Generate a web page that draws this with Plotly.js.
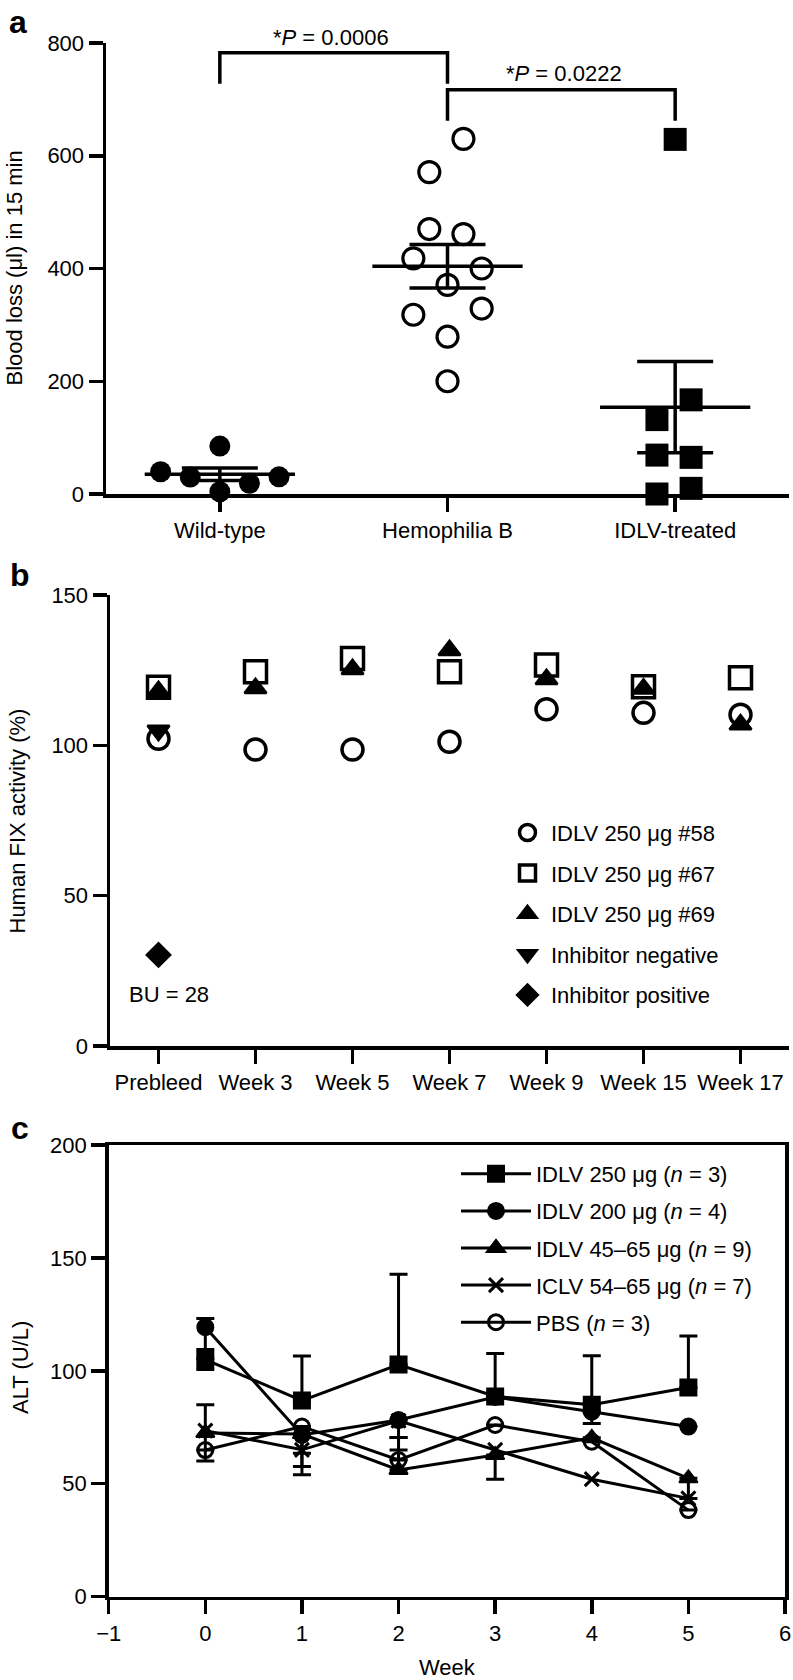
<!DOCTYPE html>
<html>
<head>
<meta charset="utf-8">
<script src="https://cdn.plot.ly/plotly-3.0.1.min.js"></script>
<style>html,body{margin:0;padding:0;background:#fff;}#chart{width:793px;height:1680px;}</style>
</head>
<body>
<div id="chart"></div>
<script>
// ---------- Panel a data ----------
const aCategories = ['Wild-type', 'Hemophilia B', 'IDLV-treated'];
const wtValues = [39.5, 30, 85, 4, 19, 30.5];
const wtJitter = [-0.26, -0.13, 0, 0, 0.13, 0.26];
const hbValues = [630, 571, 470, 461, 418, 400, 371, 318, 329, 279, 200];
const hbJitter = [0.07, -0.08, -0.08, 0.07, -0.15, 0.15, 0, -0.15, 0.15, 0, 0];
const idlvValues = [629, 167, 132, 69, 65, 0, 10];
const idlvJitter = [0, 0.07, -0.08, -0.08, 0.07, -0.08, 0.07];
const groupMeans = [35, 404, 154];
const groupSEM = [11, 38.5, 81];
const bracketFrom = [0, 1];
const bracketTo = [1, 2];
const bracketTop = [782.5, 717];
const bracketLeg = [727.5, 662];
const pLabels = ['*<i>P</i> = 0.0006', '*<i>P</i> = 0.0222'];
const pLabelX = [0.49, 1.512];

// ---------- Panel b data ----------
const bCategories = ['Prebleed', 'Week 3', 'Week 5', 'Week 7', 'Week 9', 'Week 15', 'Week 17'];
const fix58 = [102.2, 98.6, 98.6, 101.2, 112, 110.8, 110.2];
const fix67 = [119.3, 124.5, 128.9, 124.5, 126.7, 119.5, 122.5];
const fix69 = [118, 119, 125.3, 131.6, 122, 118.8, 106.9];
const inhibitorNeg = [104.9];
const inhibitorPos = [30.3];
const inhibitorCat = ['Prebleed'];
const buLabel = 'BU = 28';

// ---------- Panel c data ----------
const weeks = [0, 1, 2, 3, 4, 5];
const alt250 = [105, 86.8, 102.8, 88.6, 85, 92.6];
const alt250Up = [4.4, 19.8, 40, 19.1, 21.7, 22.8];
const alt250Down = [4.4, 0, 0, 0, 0, 0];
const alt200 = [119.3, 71.6, 78.2, 88.4, 81.9, 75.3];
const alt200Up = [3.9, 0, 0, 0, 0, 0];
const alt200Down = [14, 14, 7.7, 0, 5.2, 0];
const alt4565 = [72.5, 72, 56.1, 62.7, 70.3, 52.4];
const alt4565Up = [12.5, 0, 14.4, 0, 0, 0];
const alt4565Down = [12.5, 18, 0, 10.7, 0, 9];
const altICLV = [73.5, 65, 77.9, 65, 52, 43.5];
const altPBS = [64.9, 75.3, 60.5, 76, 68.6, 38.3];
const altPBSUp = [0, 0, 4.4, 0, 0, 0];
const altPBSDown = [0, 11.8, 0, 0, 0, 0];

// ---------- styling ----------
const FONT = 'Liberation Sans, Arial, Helvetica, sans-serif';
const TXT = 22;
const LW = 3.5;
const H = 1680, W = 793;
const py = p => 1 - p / H;
const px = p => p / W;
const pLabelPxY = [37.2, 74];

const axisBase = {
  showline: true, linecolor: 'black', linewidth: LW,
  ticks: 'outside', ticklen: 14, tickwidth: LW, tickcolor: 'black',
  showgrid: false, zeroline: false, fixedrange: true,
  tickfont: {family: FONT, size: TXT, color: 'black'}
};

const traces = [];

// Panel a: mean and SEM
traces.push({
  x: aCategories.map((c, i) => i), y: groupMeans, xaxis: 'x', yaxis: 'y',
  mode: 'markers', marker: {size: 1, color: 'rgba(0,0,0,0)'},
  error_y: {type: 'data', array: groupSEM, visible: true, color: 'black', thickness: LW, width: 38},
  error_x: {type: 'constant', value: 0.33, visible: true, color: 'black', thickness: LW, width: 0},
  showlegend: false, hoverinfo: 'skip', cliponaxis: false
});
traces.push({
  x: wtJitter.map(o => 0 + o), y: wtValues, xaxis: 'x', yaxis: 'y', mode: 'markers',
  marker: {symbol: 'circle', size: 21, color: 'black'}, showlegend: false, cliponaxis: false, name: aCategories[0]
});
traces.push({
  x: hbJitter.map(o => 1 + o), y: hbValues, xaxis: 'x', yaxis: 'y', mode: 'markers',
  marker: {symbol: 'circle-open', size: 21, color: 'black', line: {width: 3.2}}, showlegend: false, cliponaxis: false, name: aCategories[1]
});
traces.push({
  x: idlvJitter.map(o => 2 + o), y: idlvValues, xaxis: 'x', yaxis: 'y', mode: 'markers',
  marker: {symbol: 'square', size: 23, color: 'black'}, showlegend: false, cliponaxis: false, name: aCategories[2]
});

// Panel b
const legendFont = {family: FONT, size: TXT, color: 'black'};
traces.push({
  x: bCategories, y: fix58, xaxis: 'x2', yaxis: 'y2', mode: 'markers', name: 'IDLV 250 μg #58',
  marker: {symbol: 'circle-open', size: 21, color: 'black', line: {width: 3.5}},
  legend: 'legend', legendgroup: 'b1', cliponaxis: false
});
traces.push({
  x: bCategories, y: fix67, xaxis: 'x2', yaxis: 'y2', mode: 'markers', name: 'IDLV 250 μg #67',
  marker: {symbol: 'square-open', size: 22, color: 'black', line: {width: 3.5}},
  legend: 'legend', legendgroup: 'b2', cliponaxis: false
});
traces.push({
  x: bCategories, y: fix69, xaxis: 'x2', yaxis: 'y2', mode: 'markers', name: 'IDLV 250 μg #69',
  marker: {symbol: 'triangle-up', size: 19, color: 'black', line: {width: 2.5, color: 'black'}},
  legend: 'legend', legendgroup: 'b3', cliponaxis: false
});
traces.push({
  x: inhibitorCat, y: inhibitorNeg, xaxis: 'x2', yaxis: 'y2', mode: 'markers', name: 'Inhibitor negative',
  marker: {symbol: 'triangle-down', size: 19, color: 'black', line: {width: 2.5, color: 'black'}},
  legend: 'legend', legendgroup: 'b4', cliponaxis: false
});
traces.push({
  x: inhibitorCat, y: inhibitorPos, xaxis: 'x2', yaxis: 'y2', mode: 'markers', name: 'Inhibitor positive',
  marker: {symbol: 'diamond', size: 18, color: 'black', line: {width: 2.5, color: 'black'}},
  legend: 'legend', legendgroup: 'b5', cliponaxis: false
});

// Panel c
function altTrace(y, up, down, name, symbol, size, mlw, group) {
  const t = {
    x: weeks, y: y, xaxis: 'x3', yaxis: 'y3', mode: 'lines+markers', name: name,
    line: {color: 'black', width: 3},
    marker: {symbol: symbol, size: size, color: 'black', line: {width: mlw, color: 'black'}},
    legend: 'legend2', legendgroup: group, cliponaxis: false
  };
  if (up) t.error_y = {type: 'data', symmetric: false, array: up, arrayminus: down, visible: true, color: 'black', thickness: 3, width: 9};
  return t;
}
traces.push(altTrace(alt250, alt250Up, alt250Down, 'IDLV 250 μg (<i>n</i> = 3)', 'square', 16, 2, 'c1'));
traces.push(altTrace(alt200, alt200Up, alt200Down, 'IDLV 200 μg (<i>n</i> = 4)', 'circle', 16, 2, 'c2'));
traces.push(altTrace(alt4565, alt4565Up, alt4565Down, 'IDLV 45–65 μg (<i>n</i> = 9)', 'triangle-up', 16, 2, 'c3'));
traces.push(altTrace(altICLV, null, null, 'ICLV 54–65 μg (<i>n</i> = 7)', 'x-thin-open', 14, 3, 'c4'));
traces.push(altTrace(altPBS, altPBSUp, altPBSDown, 'PBS (<i>n</i> = 3)', 'circle-open', 15, 3, 'c5'));

// brackets from data arrays
const shapes = bracketFrom.map((f, i) => ({
  type: 'path', xref: 'x', yref: 'y',
  path: 'M' + f + ',' + bracketLeg[i] + ' L' + f + ',' + bracketTop[i] + ' L' + bracketTo[i] + ',' + bracketTop[i] + ' L' + bracketTo[i] + ',' + bracketLeg[i],
  line: {color: 'black', width: LW}
}));

const annFont = {family: FONT, size: TXT, color: 'black'};
const labelFont = {family: FONT, size: 32, color: 'black'};
const annotations = [
  {text: '<b>a</b>', xref: 'paper', yref: 'paper', x: px(17.5), y: py(22), showarrow: false, font: labelFont, xanchor: 'center', yanchor: 'middle'},
  {text: '<b>b</b>', xref: 'paper', yref: 'paper', x: px(20), y: py(575), showarrow: false, font: labelFont, xanchor: 'center', yanchor: 'middle'},
  {text: '<b>c</b>', xref: 'paper', yref: 'paper', x: px(20), y: py(1128), showarrow: false, font: labelFont, xanchor: 'center', yanchor: 'middle'},
  {text: 'Blood loss (μl) in 15 min', xref: 'paper', yref: 'paper', x: px(14), y: py(268.5), textangle: -90, showarrow: false, font: annFont, xanchor: 'center', yanchor: 'middle'},
  {text: 'Human FIX activity (%)', xref: 'paper', yref: 'paper', x: px(16.5), y: py(821), textangle: -90, showarrow: false, font: annFont, xanchor: 'center', yanchor: 'middle'},
  {text: 'ALT (U/L)', xref: 'paper', yref: 'paper', x: px(20), y: py(1368), textangle: -90, showarrow: false, font: annFont, xanchor: 'center', yanchor: 'middle'},
  {text: buLabel, xref: 'x2', yref: 'y2', x: 0.11, y: 17.2, showarrow: false, font: annFont, xanchor: 'center', yanchor: 'middle'}
];
pLabels.forEach((t, i) => annotations.push({
  text: t, xref: 'x', yref: 'paper', x: pLabelX[i], y: py(pLabelPxY[i]), showarrow: false, font: annFont, xanchor: 'center', yanchor: 'middle'
}));

const layout = {
  width: W, height: H, margin: {l: 0, r: 0, t: 0, b: 0},
  paper_bgcolor: 'white', plot_bgcolor: 'rgba(0,0,0,0)',
  font: {family: FONT, size: TXT, color: 'black'},
  hovermode: false,
  xaxis: Object.assign({}, axisBase, {domain: [px(106), px(789)], anchor: 'y', range: [-0.5, 2.5], tickvals: aCategories.map((c, i) => i), ticktext: aCategories}),
  yaxis: Object.assign({}, axisBase, {domain: [py(494), py(43)], anchor: 'x', range: [0, 800], tick0: 0, dtick: 200}),
  xaxis2: Object.assign({}, axisBase, {domain: [px(110), px(789)], anchor: 'y2', type: 'category', categoryorder: 'array', categoryarray: bCategories, range: [-0.5, 6.5]}),
  yaxis2: Object.assign({}, axisBase, {domain: [py(1046), py(595)], anchor: 'x2', range: [0, 150], tick0: 0, dtick: 50}),
  xaxis3: Object.assign({}, axisBase, {domain: [px(108.7), px(785)], anchor: 'y3', range: [-1, 6], tick0: 0, dtick: 1, mirror: true,
    title: {text: 'Week', font: {family: FONT, size: TXT, color: 'black'}}}),
  yaxis3: Object.assign({}, axisBase, {domain: [py(1596.6), py(1145)], anchor: 'x3', range: [0, 200], tick0: 0, dtick: 50, mirror: true}),
  legend: {x: px(504), y: py(811.7), xanchor: 'left', yanchor: 'top', bgcolor: 'rgba(0,0,0,0)', borderwidth: 0,
    font: legendFont, itemwidth: 37, tracegroupgap: 9, traceorder: 'grouped', itemclick: false, itemdoubleclick: false},
  legend2: {x: px(456), y: py(1153), xanchor: 'left', yanchor: 'top', bgcolor: 'rgba(0,0,0,0)', borderwidth: 0,
    font: legendFont, itemwidth: 70, tracegroupgap: 5.5, traceorder: 'grouped', itemclick: false, itemdoubleclick: false},
  shapes: shapes,
  annotations: annotations
};

Plotly.newPlot('chart', traces, layout, {displayModeBar: false, staticPlot: true});
</script>
</body>
</html>
